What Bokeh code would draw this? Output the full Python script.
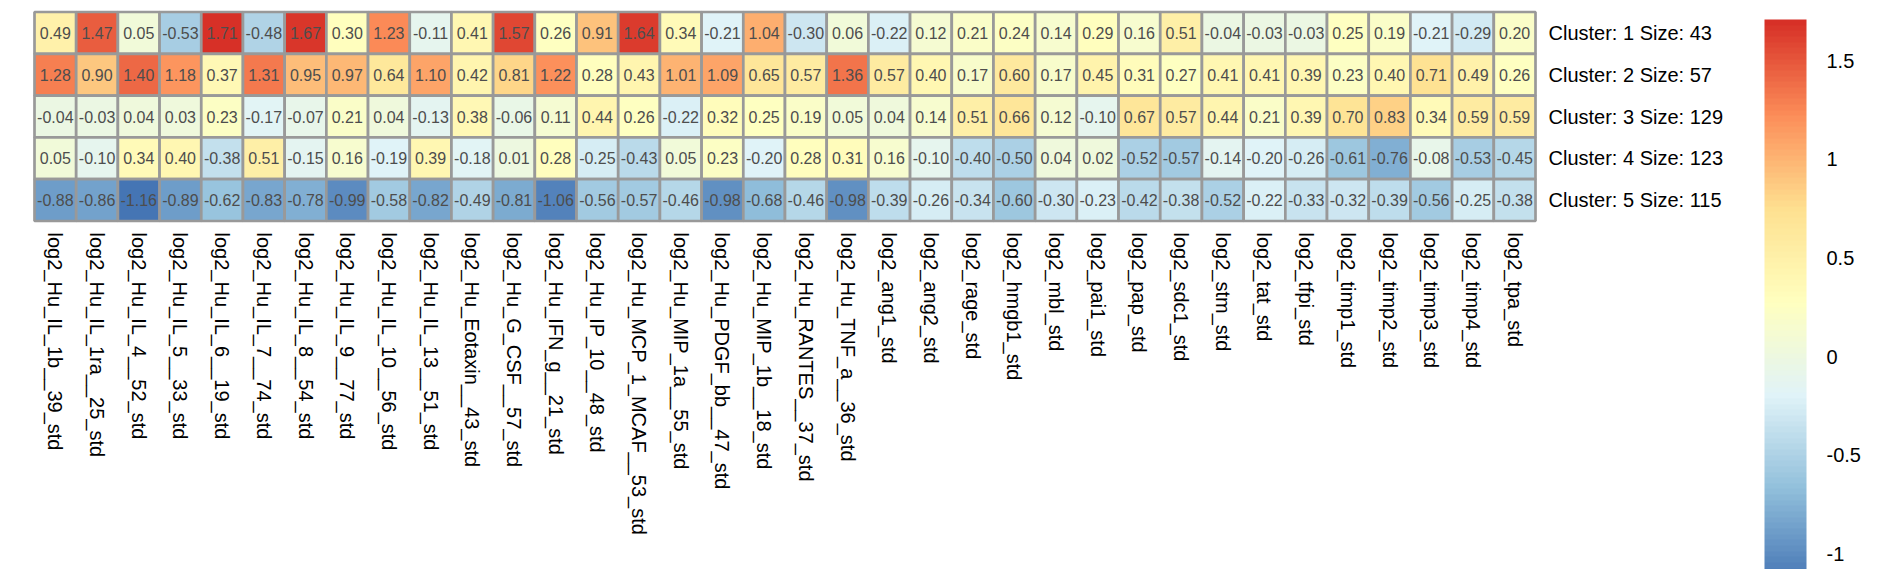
import math
from bokeh.plotting import figure
from bokeh.models import ColumnDataSource, Range1d, LinearColorMapper, ColorBar, FixedTicker
from bokeh.core.properties import value
from bokeh.embed import file_html
from bokeh.resources import INLINE

# ---------------- data ----------------
features = [
    "log2_Hu_IL_1b__39_std", "log2_Hu_IL_1ra__25_std", "log2_Hu_IL_4__52_std",
    "log2_Hu_IL_5__33_std", "log2_Hu_IL_6__19_std", "log2_Hu_IL_7__74_std",
    "log2_Hu_IL_8__54_std", "log2_Hu_IL_9__77_std", "log2_Hu_IL_10__56_std",
    "log2_Hu_IL_13__51_std", "log2_Hu_Eotaxin__43_std", "log2_Hu_G_CSF__57_std",
    "log2_Hu_IFN_g__21_std", "log2_Hu_IP_10__48_std", "log2_Hu_MCP_1_MCAF__53_std",
    "log2_Hu_MIP_1a__55_std", "log2_Hu_PDGF_bb__47_std", "log2_Hu_MIP_1b__18_std",
    "log2_Hu_RANTES__37_std", "log2_Hu_TNF_a__36_std", "log2_ang1_std",
    "log2_ang2_std", "log2_rage_std", "log2_hmgb1_std", "log2_mbl_std",
    "log2_pai1_std", "log2_pap_std", "log2_sdc1_std", "log2_stm_std",
    "log2_tat_std", "log2_tfpi_std", "log2_timp1_std", "log2_timp2_std",
    "log2_timp3_std", "log2_timp4_std", "log2_tpa_std",
]

cluster_labels = [
    "Cluster: 1 Size: 43",
    "Cluster: 2 Size: 57",
    "Cluster: 3 Size: 129",
    "Cluster: 4 Size: 123",
    "Cluster: 5 Size: 115",
]

cluster1 = [0.49, 1.47, 0.05, -0.53, 1.71, -0.48, 1.67, 0.30, 1.23, -0.11, 0.41, 1.57,
            0.26, 0.91, 1.64, 0.34, -0.21, 1.04, -0.30, 0.06, -0.22, 0.12, 0.21, 0.24,
            0.14, 0.29, 0.16, 0.51, -0.04, -0.03, -0.03, 0.25, 0.19, -0.21, -0.29, 0.20]
cluster2 = [1.28, 0.90, 1.40, 1.18, 0.37, 1.31, 0.95, 0.97, 0.64, 1.10, 0.42, 0.81,
            1.22, 0.28, 0.43, 1.01, 1.09, 0.65, 0.57, 1.36, 0.57, 0.40, 0.17, 0.60,
            0.17, 0.45, 0.31, 0.27, 0.41, 0.41, 0.39, 0.23, 0.40, 0.71, 0.49, 0.26]
cluster3 = [-0.04, -0.03, 0.04, 0.03, 0.23, -0.17, -0.07, 0.21, 0.04, -0.13, 0.38, -0.06,
            0.11, 0.44, 0.26, -0.22, 0.32, 0.25, 0.19, 0.05, 0.04, 0.14, 0.51, 0.66,
            0.12, -0.10, 0.67, 0.57, 0.44, 0.21, 0.39, 0.70, 0.83, 0.34, 0.59, 0.59]
cluster4 = [0.05, -0.10, 0.34, 0.40, -0.38, 0.51, -0.15, 0.16, -0.19, 0.39, -0.18, 0.01,
            0.28, -0.25, -0.43, 0.05, 0.23, -0.20, 0.28, 0.31, 0.16, -0.10, -0.40, -0.50,
            0.04, 0.02, -0.52, -0.57, -0.14, -0.20, -0.26, -0.61, -0.76, -0.08, -0.53, -0.45]
cluster5 = [-0.88, -0.86, -1.16, -0.89, -0.62, -0.83, -0.78, -0.99, -0.58, -0.82, -0.49, -0.81,
            -1.06, -0.56, -0.57, -0.46, -0.98, -0.68, -0.46, -0.98, -0.39, -0.26, -0.34, -0.60,
            -0.30, -0.23, -0.42, -0.38, -0.52, -0.22, -0.33, -0.32, -0.39, -0.56, -0.25, -0.38]

rows = [cluster1, cluster2, cluster3, cluster4, cluster5]
legend_ticks = [-1, -0.5, 0, 0.5, 1, 1.5]
legend_tick_labels = ["-1", "-0.5", "0", "0.5", "1", "1.5"]

# ---------------- palette (rev RdYlBu 7, ramped to 100) ----------------
base = ["#4575B4", "#91BFDB", "#E0F3F8", "#FFFFBF", "#FEE090", "#FC8D59", "#D73027"]
def hex2rgb(h):
    return tuple(int(h[i:i + 2], 16) for i in (1, 3, 5))
rgb = [hex2rgb(h) for h in base]
palette = []
n = 100
for i in range(n):
    t = i / (n - 1) * (len(rgb) - 1)
    k = min(int(math.floor(t)), len(rgb) - 2)
    f = t - k
    c = tuple(round(rgb[k][j] + (rgb[k + 1][j] - rgb[k][j]) * f) for j in range(3))
    palette.append("#%02X%02X%02X" % c)

all_vals = [v for r in rows for v in r]
vmin, vmax = min(all_vals), max(all_vals)
mapper = LinearColorMapper(palette=palette, low=vmin, high=vmax)

# ---------------- sources ----------------
nrow = len(rows)
xs, ys, vals, txt = [], [], [], []
for i, r in enumerate(rows):
    for j, v in enumerate(r):
        xs.append(j + 0.5)
        ys.append(nrow - i - 0.5)
        vals.append(v)
        txt.append("%.2f" % v)
cells = ColumnDataSource(dict(x=xs, y=ys, val=vals, txt=txt))

# ---------------- figure ----------------
W, H = 1872, 569
sx = (1543 - 42) / len(features)
x0 = -(42 - 8) / sx
x1 = x0 + W / sx
sy = (228.5 - 19.5) / nrow
y1 = nrow + (19.5 - 8) / sy
y0 = y1 - H / sy

p = figure(width=W, height=H, x_range=Range1d(x0, x1), y_range=Range1d(y0, y1),
           output_backend="svg", toolbar_location=None, min_border=0,
           x_axis_location=None, y_axis_location=None)
p.grid.visible = False
p.outline_line_color = None
p.background_fill_color = "white"

p.rect(x="x", y="y", width=1, height=1, source=cells,
       fill_color={"field": "val", "transform": mapper},
       line_color="#999999", line_width=2.7)

p.text(x="x", y="y", text="txt", source=cells, text_align="center",
       text_baseline="middle", text_font=value("Liberation Sans"),
       text_font_size="16px", text_color="#4D4D4D")

# row labels
rl = ColumnDataSource(dict(x=[len(features) + (1556 - 1543) / sx] * nrow,
                           y=[nrow - i - 0.5 for i in range(nrow)],
                           t=cluster_labels))
p.text(x="x", y="y", text="t", source=rl, text_align="left", text_baseline="middle",
       text_font=value("Liberation Sans"), text_font_size="20px", text_color="black")

# column labels
cl = ColumnDataSource(dict(x=[j + 0.5 for j in range(len(features))],
                           y=[-(240 - 228.5) / sy] * len(features),
                           t=features))
p.text(x="x", y="y", text="t", source=cl, angle=-math.pi / 2, text_align="left",
       text_baseline="middle", text_font=value("Liberation Sans"),
       text_font_size="20px", text_color="black")

# color bar
px_per_unit = (556.5 - 62.7) / 2.5
disp_low = 1.5 - (577 - 62.7) / px_per_unit
cb_h = int(round((vmax - disp_low) * px_per_unit)) + 4
cb = ColorBar(color_mapper=mapper, width=42, height=cb_h,
              location=(1772 - 8, -10), padding=0,
              display_low=disp_low, display_high=vmax,
              ticker=FixedTicker(ticks=legend_ticks),
              major_label_overrides={t: l for t, l in zip(legend_ticks, legend_tick_labels)},
              major_tick_line_color=None, minor_tick_line_color=None,
              major_tick_in=0, major_tick_out=0,
              bar_line_color=None, border_line_color=None,
              background_fill_alpha=0, label_standoff=20,
              major_label_text_font="Liberation Sans",
              major_label_text_font_size="20px",
              major_label_text_color="black",
              scale_alpha=1.0)
p.add_layout(cb)

open("out.html", "w").write(file_html(p, INLINE))
